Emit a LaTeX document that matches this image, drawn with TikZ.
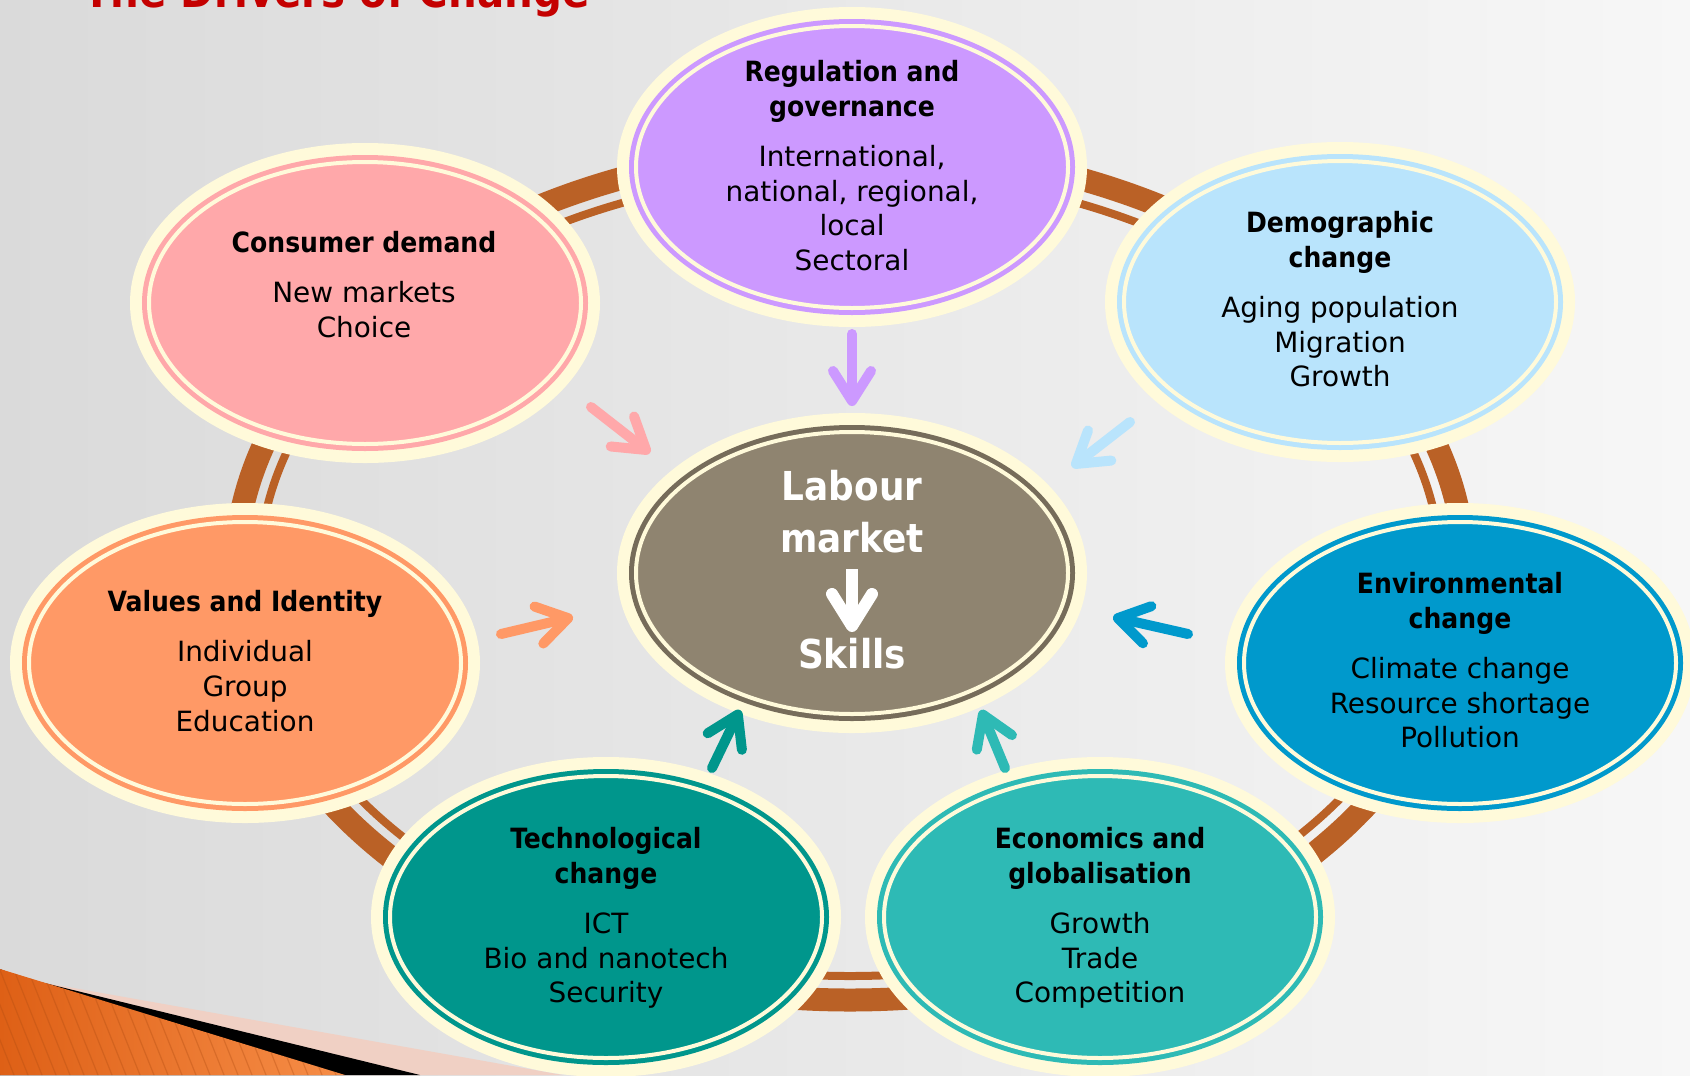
\documentclass[tikz,border=0pt]{standalone}
\usepackage{fontspec}
\setmainfont{DejaVu Sans}
\newfontfamily\hdfont{DejaVu Sans Condensed Bold}
\usetikzlibrary{shapes.geometric,arrows.meta}
\definecolor{cream}{RGB}{255,250,218}
\definecolor{bgl}{RGB}{218,218,218}
\definecolor{bgr}{RGB}{247,247,247}
\definecolor{ringc}{RGB}{186,97,38}
\definecolor{ttlc}{RGB}{196,0,0}
\definecolor{lmc}{RGB}{143,132,112}
\definecolor{lmb}{RGB}{118,108,90}
\definecolor{regc}{RGB}{204,153,255}
\definecolor{cdc}{RGB}{255,168,170}
\definecolor{demc}{RGB}{185,228,252}
\definecolor{valc}{RGB}{255,153,102}
\definecolor{envc}{RGB}{0,153,204}
\definecolor{techc}{RGB}{0,150,140}
\definecolor{econc}{RGB}{46,186,181}
\definecolor{pinkband}{RGB}{240,208,196}
\definecolor{orl}{RGB}{222,96,22}
\definecolor{orr}{RGB}{247,142,72}
\tikzset{
  halo/.style={ellipse, fill=cream, inner sep=0pt, minimum width=470bp, minimum height=320bp},
  txt/.style={align=center, inner sep=0pt, font=\fontsize{28}{35}\selectfont},
  lmtxt/.style={align=center, inner sep=0pt, text=white, font=\hdfont\fontsize{40}{52}\selectfont},
  drive/.style={line width=10bp, line cap=round, -{Straight Barb[length=30bp, width=38bp, round]}},
}
\begin{document}
\begin{tikzpicture}[x=1bp, y=-1bp, line join=round]
  \useasboundingbox (0,0) rectangle (1690,1075);
  \clip (0,0) rectangle (1690,1075);
  % background
  \shade[left color=bgl, right color=bgr] (0,0) rectangle (1690,1075);
  % corner decoration
  \fill[pinkband] (40,982) -- (563,1075) -- (0,1075) -- cycle;
  \fill[black] (0,969) -- (20,977) -- (420,1075) -- (0,1075) -- cycle;
  \begin{scope}
    \clip (0,969) -- (345,1075) -- (0,1075) -- cycle;
    \shade[left color=orl, right color=orr] (0,960) rectangle (350,1075);
    \foreach \i in {0,...,28}
      \draw[orl!80!black, line width=1.2bp, opacity=0.35] (\i*14-60,960) -- ++(48,120);
  \end{scope}
  % title
  \node[anchor=base west, inner sep=0pt, text=ttlc, font=\hdfont\fontsize{45}{54}\selectfont]
    (title) at (83,7) {The Drivers of Change};
  % ring
  \coordinate (rc) at (850,574);
  \draw[ringc, line width=23bp] (rc) ellipse [x radius=615bp, y radius=426bp];
  \draw[ringc, line width=8bp] (rc) ellipse [x radius=591bp, y radius=402bp];
  % ellipses
  \foreach \n/\px/\py/\f/\b in {lm/852/573/lmc/lmb, reg/852/167/regc/regc,
      cd/365/303/cdc/cdc, dem/1340/302/demc/demc, val/245/663/valc/valc,
      env/1460/663/envc/envc, tech/606/917/techc/techc, econ/1100/917/econc/econc}{
    \node[halo] (\n) at (\px,\py) {};
    \fill[\b] (\n.center) ellipse [x radius=223bp, y radius=148bp];
    \fill[\f] (\n.center) ellipse [x radius=214bp, y radius=139bp];
    \draw[cream, line width=4bp] (\n.center) ellipse [x radius=216bp, y radius=141bp];
  }
  % texts
  \node[txt, anchor=north] (reg-x) at (852,60)
    {\hdfont Regulation and\\\hdfont governance\\[15bp]\rmfamily International,\\national, regional,\\local\\Sectoral};
  \node[txt, anchor=north] (cd-x) at (364,231)
    {\hdfont Consumer demand\\[15bp]\rmfamily New markets\\Choice};
  \node[txt, anchor=north] (dem-x) at (1340,211)
    {\hdfont Demographic\\\hdfont change\\[15bp]\rmfamily Aging population\\Migration\\Growth};
  \node[txt, anchor=north] (val-x) at (245,590)
    {\hdfont Values and Identity\\[15bp]\rmfamily Individual\\Group\\Education};
  \node[txt, anchor=north] (env-x) at (1460,572)
    {\hdfont Environmental\\\hdfont change\\[15bp]\rmfamily Climate change\\Resource shortage\\Pollution};
  \node[txt, anchor=north] (tech-x) at (606,827)
    {\hdfont Technological\\\hdfont change\\[15bp]\rmfamily ICT\\Bio and nanotech\\Security};
  \node[txt, anchor=north] (econ-x) at (1100,827)
    {\hdfont Economics and\\\hdfont globalisation\\[15bp]\rmfamily Growth\\Trade\\Competition};
  \node[lmtxt, anchor=north] (lab) at (852,470) {Labour\\market};
  \node[lmtxt, anchor=north] (sk) at (852,638) {Skills};
  \draw[white, line width=12bp, -{Straight Barb[length=32bp, width=40bp, round]}]
    ([yshift=-16bp]lab.south) -- ([yshift=6bp]sk.north);
  % arrows towards the labour market
  \foreach \n/\sx/\sy/\tx/\ty/\c in {reg/852/334/852/406/regc, cd/591/407/650/453/cdc,
      dem/1130/422/1072/467/demc, val/501/634/573/617/valc, env/1188/634/1113/617/envc,
      tech/712/768/740/710/techc, econ/1005/768/981/710/econc}{
    \coordinate (\n-s) at (\sx,\sy);
    \coordinate (\n-t) at (\tx,\ty);
    \draw[drive, \c] (\n-s) -- (\n-t);
  }
\end{tikzpicture}
\end{document}
